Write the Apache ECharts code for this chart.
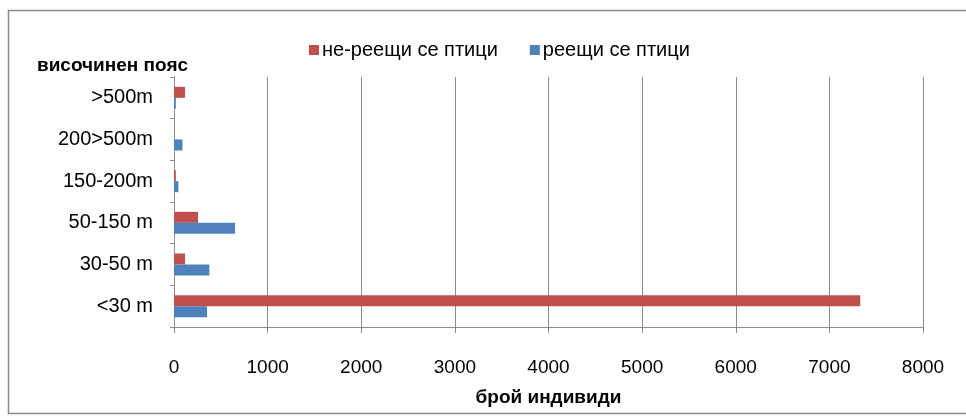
<!DOCTYPE html>
<html>
<head>
<meta charset="utf-8">
<script src="https://cdn.jsdelivr.net/npm/echarts@6/dist/echarts.min.js"></script>
<style>
  html, body { margin: 0; padding: 0; background: #fff; }
  #chart { width: 966px; height: 416px; }
</style>
</head>
<body>
<div id="chart"></div>
<script>
// височинни пояси, отдолу нагоре
var categories = ['<30 m', '30-50 m', '50-150 m', '150-200m', '200>500m', '>500m'];
// не-реещи се птици
var nonSoaring = [7330, 118, 256, 20, 0, 118];
// реещи се птици
var soaring = [353, 378, 652, 47, 90, 20];
var xTicks = [0, 8000, 1000];

var red = '#C0504D';
var blue = '#4F81BD';
var gridColor = '#8c8c8c';
var font = 'Liberation Sans';

var chart = echarts.init(document.getElementById('chart'));

chart.setOption({
  backgroundColor: '#fff',
  animation: false,
  title: {
    text: 'височинен пояс',
    left: 32,
    top: 51,
    textStyle: { fontFamily: font, fontSize: 19, fontWeight: 'bold', color: '#000' }
  },
  legend: {
    data: ['не-реещи се птици', 'реещи се птици'],
    left: 304,
    top: 35,
    icon: 'rect',
    itemWidth: 10,
    itemHeight: 10,
    itemGap: 32,
    textStyle: { fontFamily: font, fontSize: 20, color: '#000', padding: [0, 0, 0, -2] }
  },
  graphic: [{
    type: 'rect',
    shape: { x: 8.5, y: 10.5, width: 1000, height: 403 },
    style: { fill: 'none', stroke: '#8a8a8a', lineWidth: 1.5 },
    silent: true
  }],
  grid: {
    left: 174,
    right: 43,
    top: 77,
    bottom: 89
  },
  xAxis: {
    type: 'value',
    min: xTicks[0],
    max: xTicks[1],
    interval: xTicks[2],
    name: 'брой индивиди',
    nameLocation: 'middle',
    nameGap: 61,
    nameTextStyle: { fontFamily: font, fontSize: 19, fontWeight: 'bold', color: '#000' },
    axisLine: { show: true, lineStyle: { color: gridColor } },
    axisTick: { show: true, length: 6, lineStyle: { color: gridColor } },
    splitLine: { show: true, lineStyle: { color: gridColor } },
    axisLabel: {
      margin: 31, fontFamily: font, fontSize: 19, color: '#000',
      formatter: function (v) { return String(v); }
    }
  },
  yAxis: {
    type: 'category',
    data: categories,
    axisLine: { show: true, lineStyle: { color: gridColor } },
    axisTick: { show: true, length: 4, lineStyle: { color: gridColor } },
    axisLabel: { margin: 21, fontFamily: font, fontSize: 20, color: '#000' }
  },
  series: [
    {
      name: 'не-реещи се птици',
      type: 'bar',
      data: nonSoaring,
      barWidth: 11,
      barGap: '0%',
      itemStyle: { color: red }
    },
    {
      name: 'реещи се птици',
      type: 'bar',
      data: soaring,
      barWidth: 11,
      barGap: '0%',
      itemStyle: { color: blue }
    }
  ]
});
</script>
</body>
</html>
